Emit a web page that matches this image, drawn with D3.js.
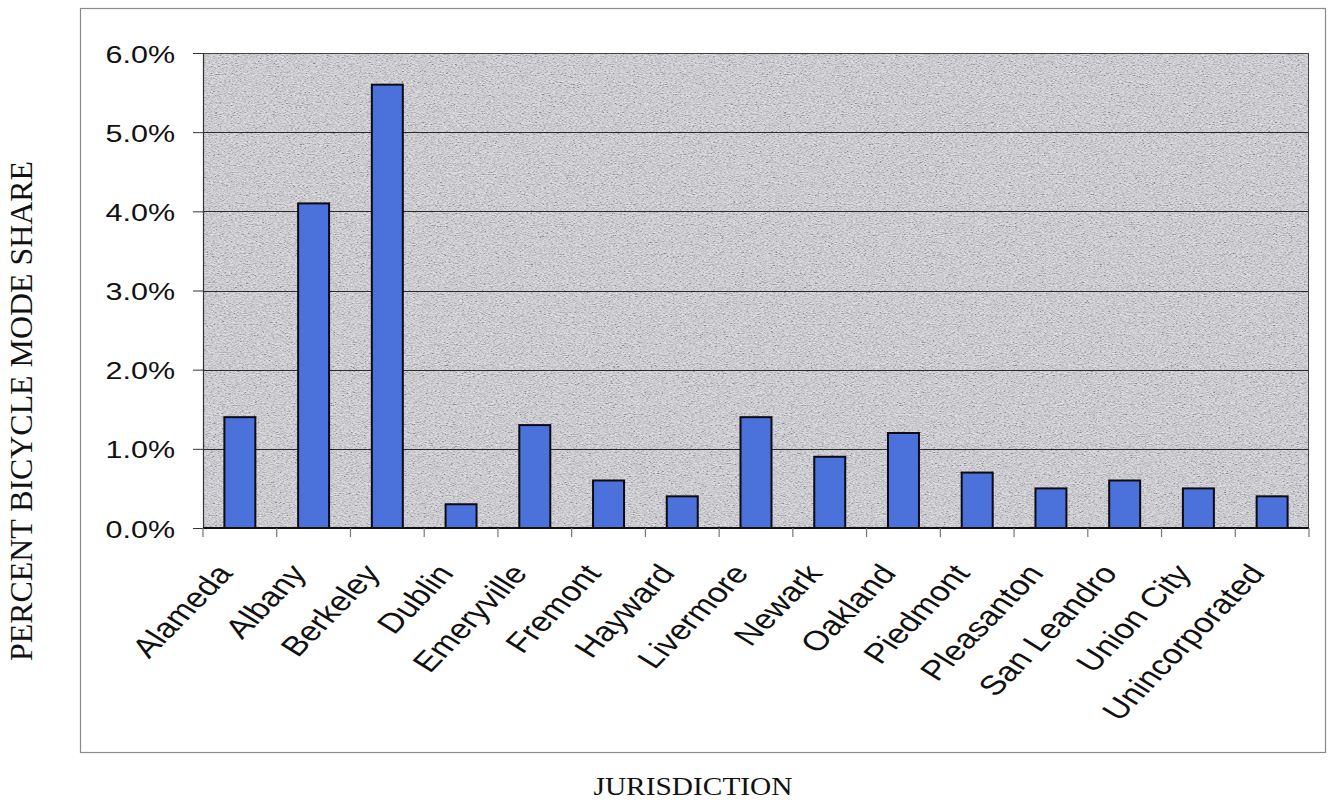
<!DOCTYPE html>
<html>
<head>
<meta charset="utf-8">
<script src="https://cdn.jsdelivr.net/npm/d3@7"></script>
<style>
  html, body { margin: 0; padding: 0; background: #ffffff; }
  svg { display: block; }
</style>
</head>
<body>
<svg id="chart" width="1328" height="802"></svg>
<script>
// Bicycle commute mode share by jurisdiction (percent)
const categories = ["Alameda", "Albany", "Berkeley", "Dublin", "Emeryville", "Fremont", "Hayward",
  "Livermore", "Newark", "Oakland", "Piedmont", "Pleasanton", "San Leandro", "Union City", "Unincorporated"];
const shares = [1.4, 4.1, 5.6, 0.3, 1.3, 0.6, 0.4, 1.4, 0.9, 1.2, 0.7, 0.5, 0.6, 0.5, 0.4];
const yTicks = [0, 1, 2, 3, 4, 5, 6];
const yTickLabels = ["0.0%", "1.0%", "2.0%", "3.0%", "4.0%", "5.0%", "6.0%"];
const yTitle = "PERCENT BICYCLE MODE SHARE";
const xTitle = "JURISDICTION";

const svg = d3.select("#chart");
const plot = { left: 203, right: 1309, top: 53, bottom: 528 };
const wide = 1.27;   // horizontal stretch of the sans labels

const x = d3.scaleBand().domain(categories)
  .range([plot.left, plot.right]).paddingInner(0.58).paddingOuter(0.29);
const y = d3.scaleLinear().domain([0, 6]).range([plot.bottom, plot.top]);

// grainy texture for the plot background
const defs = svg.append("defs");
const f = defs.append("filter").attr("id", "grain")
  .attr("x", 0).attr("y", 0).attr("width", "100%").attr("height", "100%");
f.append("feTurbulence").attr("type", "fractalNoise")
  .attr("baseFrequency", "0.45 1.1").attr("numOctaves", 2).attr("seed", 7);
f.append("feColorMatrix").attr("type", "matrix")
  .attr("values", "1.8 0 0 0 -0.4  1.8 0 0 0 -0.4  1.8 0 0 0 -0.37  0 0 0 0 1");

// outer chart frame
svg.append("rect").attr("x", 80.5).attr("y", 8.5).attr("width", 1245).attr("height", 744)
  .attr("fill", "#fff").attr("stroke", "#8a8a8a").attr("stroke-width", 1.2);

// plot area
svg.append("rect").attr("x", plot.left).attr("y", plot.top)
  .attr("width", plot.right - plot.left).attr("height", plot.bottom - plot.top)
  .attr("fill", "#d4d4d8");
svg.append("rect").attr("x", plot.left).attr("y", plot.top)
  .attr("width", plot.right - plot.left).attr("height", plot.bottom - plot.top)
  .attr("filter", "url(#grain)").attr("opacity", 0.34);

// gridlines
svg.append("g").selectAll("line").data(yTicks.filter(d => d > 0)).join("line")
  .attr("x1", plot.left).attr("x2", plot.right)
  .attr("y1", d => Math.round(y(d)) + 0.5).attr("y2", d => Math.round(y(d)) + 0.5)
  .attr("stroke", "#2a2a2a").attr("stroke-width", 1);

// plot border
svg.append("rect").attr("x", plot.left + 0.5).attr("y", plot.top + 0.5)
  .attr("width", plot.right - plot.left - 1).attr("height", plot.bottom - plot.top)
  .attr("fill", "none").attr("stroke", "#444").attr("stroke-width", 1);

// bars
svg.append("g").selectAll("rect").data(categories).join("rect")
  .attr("x", d => x(d))
  .attr("y", (d, i) => y(shares[i]))
  .attr("width", x.bandwidth())
  .attr("height", (d, i) => y(0) - y(shares[i]))
  .attr("fill", "#4a72da")
  .attr("stroke", "#0a0a14").attr("stroke-width", 2);

// value axis
const yAxis = svg.append("g").attr("transform", `translate(${plot.left},0)`)
  .call(d3.axisLeft(y).tickValues(yTicks).tickSize(10).tickPadding(0)
    .tickFormat((d, i) => yTickLabels[i]));
yAxis.select(".domain").attr("stroke", "#333").attr("stroke-width", 1.2);
yAxis.selectAll(".tick line").attr("stroke", "#333");
yAxis.selectAll(".tick text")
  .attr("x", null).attr("dy", null)
  .attr("transform", `translate(-28,9) scale(${wide},1)`)
  .attr("font-family", "Liberation Sans, Arial, sans-serif")
  .attr("font-size", 24).attr("fill", "#111");

// category axis: baseline and ticks at category boundaries
const bounds = d3.range(categories.length + 1).map(i => plot.left + i * x.step());
svg.append("line").attr("x1", plot.left).attr("x2", plot.right)
  .attr("y1", plot.bottom).attr("y2", plot.bottom)
  .attr("stroke", "#111").attr("stroke-width", 2);
svg.append("g").selectAll("line").data(bounds).join("line")
  .attr("x1", d => d).attr("x2", d => d)
  .attr("y1", plot.bottom).attr("y2", plot.bottom + 9)
  .attr("stroke", "#777").attr("stroke-width", 1.2);

// rotated category labels
svg.append("g").selectAll("text").data(categories).join("text")
  .attr("transform", d => `translate(${x(d) + x.bandwidth() / 2 - 6},574) scale(${wide},1) rotate(-52)`)
  .attr("text-anchor", "end")
  .attr("font-family", "Liberation Sans, Arial, sans-serif")
  .attr("font-size", 27.5).attr("fill", "#111")
  .text(d => d);

// axis titles
svg.append("text")
  .attr("transform", "translate(32,411) rotate(-90)")
  .attr("text-anchor", "middle")
  .attr("font-family", "Liberation Serif, Times New Roman, serif")
  .attr("font-size", 31).attr("fill", "#111")
  .attr("textLength", 500).attr("lengthAdjust", "spacingAndGlyphs")
  .text(yTitle);
svg.append("text")
  .attr("transform", `translate(693,795) scale(1.13,1)`)
  .attr("text-anchor", "middle")
  .attr("font-family", "Liberation Serif, Times New Roman, serif")
  .attr("font-size", 26).attr("fill", "#111")
  .text(xTitle);
</script>
</body>
</html>
